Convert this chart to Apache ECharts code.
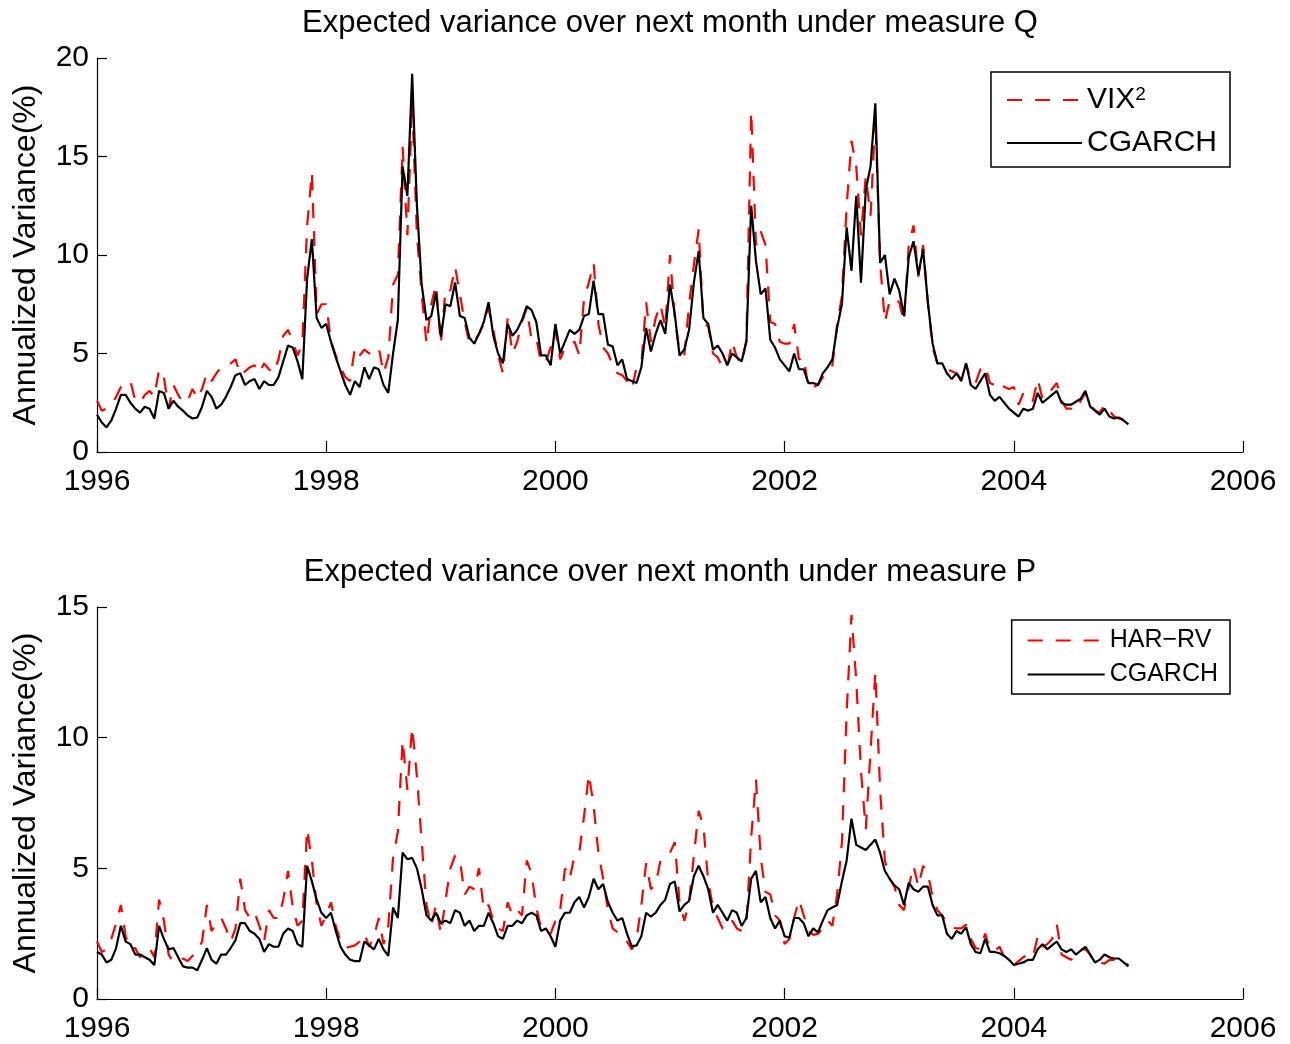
<!DOCTYPE html>
<html>
<head>
<meta charset="utf-8">
<script src="https://cdn.jsdelivr.net/npm/echarts@6/dist/echarts.min.js"></script>
<style>
  html, body { margin: 0; padding: 0; background: #fff; }
  #main { width: 1290px; height: 1044px; }
</style>
</head>
<body>
<div id="main"></div>
<script>
// half-month sampling, Jan 1996 .. Jan 2005
const startYear = 1996;
const stepYear = 1 / 24;

// top panel: measure Q
const vixSq = [
  2.6, 2.1, 2.2, 2.4, 2.8, 3.3, 3.5, 3.6, 2.6, 2.5, 2.9, 3.1, 2.8, 4.2, 3.8, 2.2, 3.4, 2.9, 2.5, 2.6, 3.2, 2.7, 3.2, 4.0,
  3.6, 4.0, 4.3, 4.3, 4.5, 4.7, 3.9, 4.1, 4.3, 4.4, 4.0, 4.5, 4.2, 4.0, 4.7, 5.9, 6.2, 5.6, 4.9, 5.5, 11.5, 14.2, 7.0, 7.5,
  7.5, 5.6, 4.9, 4.3, 3.8, 3.6, 5.3, 4.9, 5.2, 5.0, 5.1, 5.3, 4.0, 4.8, 8.5, 9.0, 15.5, 11.0, 17.8, 11.0, 8.0, 5.5, 7.5, 8.5,
  5.5, 8.3, 8.2, 9.4, 8.0, 6.6, 5.5, 5.6, 6.0, 6.5, 7.3, 6.2, 4.9, 4.0, 6.8, 5.0, 5.6, 6.6, 7.3, 5.7, 5.8, 4.5, 4.6, 5.3,
  6.2, 4.7, 5.3, 5.4, 5.6, 4.9, 7.8, 8.6, 9.6, 6.5, 5.3, 5.0, 4.4, 4.0, 3.9, 3.6, 3.2, 4.3, 4.5, 7.6, 5.6, 6.8, 7.5, 6.3,
  10.0, 6.8, 5.1, 4.9, 7.5, 9.5, 11.3, 6.5, 6.4, 5.0, 4.8, 4.3, 4.3, 5.6, 4.8, 4.5, 5.7, 17.3, 10.5, 11.2, 10.5, 6.6, 6.5, 5.6,
  5.5, 5.5, 6.5, 4.7, 4.8, 3.2, 3.3, 3.4, 3.8, 4.0, 4.4, 6.5, 7.9, 12.5, 15.8, 14.5, 11.0, 14.0, 12.0, 17.0, 9.6, 6.6, 7.7, 7.8,
  7.6, 6.6, 10.5, 11.5, 8.9, 10.5, 7.6, 5.3, 4.5, 4.4, 4.2, 4.1, 4.0, 3.7, 4.5, 3.6, 3.5, 4.2, 4.4, 3.5, 3.4, 3.6, 3.3, 3.2,
  3.3, 2.4, 3.0, 2.6, 2.6, 3.7, 2.7, 2.8, 3.2, 3.5, 2.6, 2.2, 2.2, 2.1, 2.6, 3.0, 2.4, 2.1, 2.0, 2.4, 2.1, 1.8, 1.7, 1.65,
  1.5
];
const cgarchQ = [
  1.9, 1.5, 1.25, 1.6, 2.2, 2.9, 2.9, 2.5, 2.2, 2.0, 2.3, 2.2, 1.7, 3.1, 3.0, 2.2, 2.6, 2.3, 2.1, 1.85, 1.7, 1.75, 2.3, 3.1,
  2.8, 2.2, 2.4, 2.8, 3.3, 3.9, 4.0, 3.4, 3.6, 3.7, 3.2, 3.6, 3.4, 3.4, 3.8, 4.6, 5.4, 5.3, 4.6, 3.7, 8.8, 10.8, 6.8, 6.3,
  6.5, 5.6, 4.8, 4.1, 3.4, 2.9, 3.6, 3.3, 4.3, 3.7, 4.3, 4.2, 3.4, 3.0, 5.0, 6.7, 14.5, 13.0, 19.2, 12.5, 8.5, 6.7, 6.9, 8.1,
  5.85, 7.5, 7.4, 8.6, 6.9, 6.8, 5.8, 5.5, 6.0, 6.6, 7.6, 5.9, 5.0, 4.5, 6.5, 5.9, 6.2, 6.7, 7.4, 7.2, 6.6, 4.9, 4.9, 4.4,
  6.5, 5.0, 5.6, 6.2, 6.0, 6.2, 6.9, 7.0, 8.7, 7.0, 7.0, 5.45, 5.35, 4.4, 4.7, 3.7, 3.6, 3.5, 4.3, 6.3, 5.1, 6.0, 6.7, 6.0,
  8.5, 7.0, 4.9, 5.2, 6.2, 8.6, 10.2, 6.8, 6.5, 5.2, 5.4, 5.0, 4.4, 5.0, 4.8, 4.6, 5.6, 12.5, 9.7, 8.0, 8.3, 5.7, 5.3, 4.7,
  4.4, 4.1, 5.0, 4.2, 4.2, 3.5, 3.5, 3.4, 4.0, 4.3, 4.7, 6.3, 7.5, 11.4, 9.2, 13.0, 8.6, 13.3, 14.5, 17.7, 9.6, 10.0, 8.0, 8.8,
  8.2, 6.9, 9.9, 10.7, 9.0, 10.3, 7.6, 5.5, 4.5, 4.5, 4.0, 3.7, 4.0, 3.6, 4.5, 3.4, 3.2, 3.6, 4.0, 2.9, 2.6, 2.8, 2.5, 2.2,
  2.0, 1.8, 2.2, 2.1, 2.2, 3.0, 2.5, 2.7, 2.9, 3.1, 2.5, 2.4, 2.4, 2.55, 2.7, 3.1, 2.3, 2.1, 1.9, 2.2, 1.8, 1.7, 1.75, 1.6,
  1.4
];

// bottom panel: measure P
const harRv = [
  2.2, 1.8, 1.9, 2.3, 2.9, 3.6, 2.4, 1.9, 1.95, 1.6, 1.8, 1.95, 1.6, 3.8, 3.0, 1.7, 1.4, 1.5, 1.55, 1.45, 1.65, 1.8, 2.2, 3.6,
  2.6, 2.9, 3.1, 2.7, 2.2, 2.7, 4.6, 3.4, 3.1, 3.3, 2.8, 2.2, 3.4, 3.1, 3.1, 3.8, 4.9, 3.5, 2.8, 3.0, 6.5, 5.3, 3.6, 2.8,
  3.2, 3.7, 2.8, 2.2, 1.95, 2.0, 2.05, 2.2, 2.5, 2.0, 2.4, 3.1, 2.1, 2.8, 5.4, 6.4, 9.9, 8.0, 10.4, 8.5, 6.0, 3.6, 2.8, 3.6,
  2.5, 3.8, 5.0, 5.5, 5.3, 4.0, 4.3, 4.2, 5.0, 3.4, 3.6, 3.0, 2.7, 2.6, 3.7, 3.2, 3.4, 3.2, 5.3, 4.8, 3.5, 2.7, 2.6, 2.5,
  3.0, 3.4, 5.0, 4.6, 5.5, 5.6, 7.0, 8.6, 7.4, 5.6, 4.6, 3.4, 2.7, 2.55, 2.45, 2.2, 1.9, 2.3, 3.6, 5.2, 4.2, 4.4, 5.3, 5.4,
  5.6, 6.0, 3.7, 3.0, 3.7, 5.5, 7.2, 6.6, 4.5, 3.5, 3.1, 2.7, 2.7, 3.0, 2.7, 2.6, 2.9, 6.2, 8.4, 5.4, 4.1, 4.0, 3.2, 3.0,
  2.1, 2.3, 3.1, 3.8, 3.2, 2.6, 2.45, 2.5, 2.7, 3.0, 2.8, 4.0, 6.0, 11.0, 14.7, 12.2, 8.7, 6.5, 9.5, 12.5, 8.0, 5.3, 4.6, 4.3,
  3.6, 3.4, 4.3, 5.1, 4.3, 5.1, 4.8, 3.9, 3.4, 3.2, 2.9, 2.75, 2.7, 2.7, 2.85, 2.3, 1.95, 1.9, 2.5, 1.9, 1.85, 2.0, 1.6, 1.4,
  1.3, 1.45, 1.6, 1.7, 1.6, 2.4, 2.0, 2.1, 2.3, 2.85, 1.7, 1.6, 1.5, 1.7, 1.9, 1.9, 1.7, 1.35, 1.4, 1.35, 1.5, 1.5, 1.45, 1.45,
  1.3
];
const cgarchP = [
  1.8, 1.7, 1.4, 1.5, 1.95, 2.8, 2.2, 2.1, 1.7, 1.7, 1.6, 1.5, 1.3, 2.8, 2.3, 1.9, 1.95, 1.6, 1.25, 1.2, 1.2, 1.1, 1.5, 1.95,
  1.5, 1.35, 1.7, 1.7, 1.95, 2.25, 2.9, 2.9, 2.6, 2.5, 2.3, 1.8, 2.1, 2.0, 2.0, 2.5, 2.7, 2.6, 2.1, 2.0, 5.1, 4.5, 3.8, 3.3,
  3.1, 3.3, 2.6, 2.0, 1.7, 1.5, 1.45, 1.45, 2.2, 2.05, 1.9, 2.3, 1.9, 1.65, 3.5, 3.1, 5.6, 5.35, 5.4, 5.0, 4.2, 3.2, 3.0, 3.3,
  2.9, 3.0, 2.9, 3.4, 3.3, 2.8, 3.0, 2.6, 2.8, 2.8, 3.3, 2.9, 2.4, 2.3, 2.8, 2.8, 3.0, 2.9, 3.2, 3.3, 3.2, 2.6, 2.7, 2.4,
  2.0, 3.0, 3.3, 3.3, 3.7, 3.9, 3.5, 3.9, 4.6, 4.2, 4.4, 3.7, 3.3, 3.0, 3.1, 2.5, 2.0, 2.05, 2.4, 3.3, 3.15, 3.3, 3.6, 3.8,
  4.4, 4.5, 3.35, 3.6, 3.75, 4.7, 5.1, 4.7, 4.2, 3.3, 3.6, 3.3, 3.0, 3.4, 3.3, 2.8, 3.1, 4.6, 4.9, 3.7, 3.9, 3.1, 2.7, 3.0,
  2.4, 2.35, 3.1, 3.1, 2.9, 2.4, 2.7, 2.55, 3.0, 3.4, 3.5, 3.6, 4.5, 5.3, 6.9, 5.9, 5.8, 5.7, 5.9, 6.1, 5.6, 4.9, 4.6, 4.35,
  4.2, 3.6, 4.45, 4.2, 4.1, 4.3, 4.3, 3.6, 3.2, 3.2, 2.5, 2.3, 2.6, 2.5, 2.75, 2.1, 1.8, 1.75, 2.3, 1.8, 1.8, 1.75, 1.65, 1.5,
  1.3, 1.35, 1.4, 1.5, 1.5, 1.9, 2.1, 1.9, 2.05, 2.2, 1.9, 1.8, 1.9, 1.7, 1.85, 2.0, 1.7, 1.4, 1.5, 1.7, 1.6, 1.55, 1.55, 1.4,
  1.25
];

const yearTicks = [1996, 1998, 2000, 2002, 2004, 2006];
const titles = [
  'Expected variance over next month under measure Q',
  'Expected variance over next month under measure P'
];
const yName = 'Annualized Variance(%)';

const dates = vixSq.map((_, i) => startYear + i * stepYear);
const pairs = vals => vals.map((v, i) => [dates[i], v]);

const FONT = '"Liberation Sans", Arial, Helvetica, sans-serif';
const gridLeft = 97, gridRight = 47;

const chart = echarts.init(document.getElementById('main'));

const makeX = k => ({
  type: 'value',
  gridIndex: k,
  min: yearTicks[0],
  max: yearTicks[yearTicks.length - 1],
  interval: 2,
  axisLine: { lineStyle: { color: '#000', width: 1.2 } },
  axisTick: { inside: true, length: 11, lineStyle: { color: '#000', width: 1.2 } },
  axisLabel: {
    color: '#000', fontSize: 30, fontFamily: FONT, margin: 15,
    showMinLabel: true, showMaxLabel: true,
    formatter: v => String(v)
  },
  splitLine: { show: false }
});

const makeY = (k, max) => ({
  type: 'value',
  gridIndex: k,
  min: 0,
  max: max,
  interval: 5,
  name: yName,
  nameLocation: 'middle',
  nameGap: 55,
  nameTextStyle: { color: '#000', fontSize: 32, fontFamily: FONT },
  axisLine: { show: true, lineStyle: { color: '#000', width: 1.2 } },
  axisTick: { show: true, inside: true, length: 10, lineStyle: { color: '#000', width: 1.2 } },
  axisLabel: { color: '#000', fontSize: 30, fontFamily: FONT, margin: 8 },
  splitLine: { show: false }
});

const redDash = { color: '#ff0000', width: 2.2, type: [15, 13] };
const blackSolid = { color: '#000', width: 2.2, type: 'solid' };

const option = {
  animation: false,
  backgroundColor: '#fff',
  grid: [
    { left: gridLeft, right: gridRight, top: 58, height: 394 },
    { left: gridLeft, right: gridRight, top: 607, height: 394 }
  ],
  xAxis: [makeX(0), makeX(1)],
  yAxis: [makeY(0, 20), makeY(1, 15)],
  legend: [
    {
      orient: 'vertical',
      right: 60, top: 72,
      data: ['VIX2', 'CGARCH'],
      itemWidth: 75, itemHeight: 20, itemGap: 13,
      padding: [13, 13, 9, 15],
      borderColor: '#000', borderWidth: 1.5, borderRadius: 0,
      backgroundColor: '#fff',
      itemStyle: { opacity: 0 },
      textStyle: {
        color: '#000', fontSize: 30, fontFamily: FONT,
        rich: {
          base: { color: '#000', fontSize: 30, fontFamily: FONT },
          sup: { color: '#000', fontSize: 19, fontFamily: FONT, lineHeight: 12, verticalAlign: 'top' }
        }
      },
      formatter: n => (n === 'VIX2' ? '{base|VIX}{sup|2}' : n)
    },
    {
      orient: 'vertical',
      right: 60, top: 620,
      data: ['HAR\u2212RV', 'CGARCH'],
      itemWidth: 77, itemHeight: 14, itemGap: 9,
      padding: [8, 12, 7, 15],
      borderColor: '#000', borderWidth: 1.5, borderRadius: 0,
      backgroundColor: '#fff',
      itemStyle: { opacity: 0 },
      textStyle: { color: '#000', fontSize: 25, fontFamily: FONT }
    }
  ],
  graphic: titles.map((t, k) => ({
    type: 'text',
    x: gridLeft + (1290 - gridLeft - gridRight) / 2,
    y: k === 0 ? 23 : 572,
    style: {
      text: t, fill: '#000', font: '31px ' + FONT,
      align: 'center', verticalAlign: 'middle'
    }
  })),
  series: [
    { name: 'VIX2', type: 'line', xAxisIndex: 0, yAxisIndex: 0, data: pairs(vixSq),
      symbol: 'none', showSymbol: false, lineStyle: redDash, itemStyle: { color: '#ff0000' } },
    { name: 'CGARCH', type: 'line', xAxisIndex: 0, yAxisIndex: 0, data: pairs(cgarchQ),
      symbol: 'none', showSymbol: false, lineStyle: blackSolid, itemStyle: { color: '#000' } },
    { name: 'HAR\u2212RV', type: 'line', xAxisIndex: 1, yAxisIndex: 1, data: pairs(harRv),
      symbol: 'none', showSymbol: false, lineStyle: redDash, itemStyle: { color: '#ff0000' } },
    { name: 'CGARCH', type: 'line', xAxisIndex: 1, yAxisIndex: 1, data: pairs(cgarchP),
      symbol: 'none', showSymbol: false, lineStyle: blackSolid, itemStyle: { color: '#000' } }
  ]
};

chart.setOption(option);
</script>
</body>
</html>
